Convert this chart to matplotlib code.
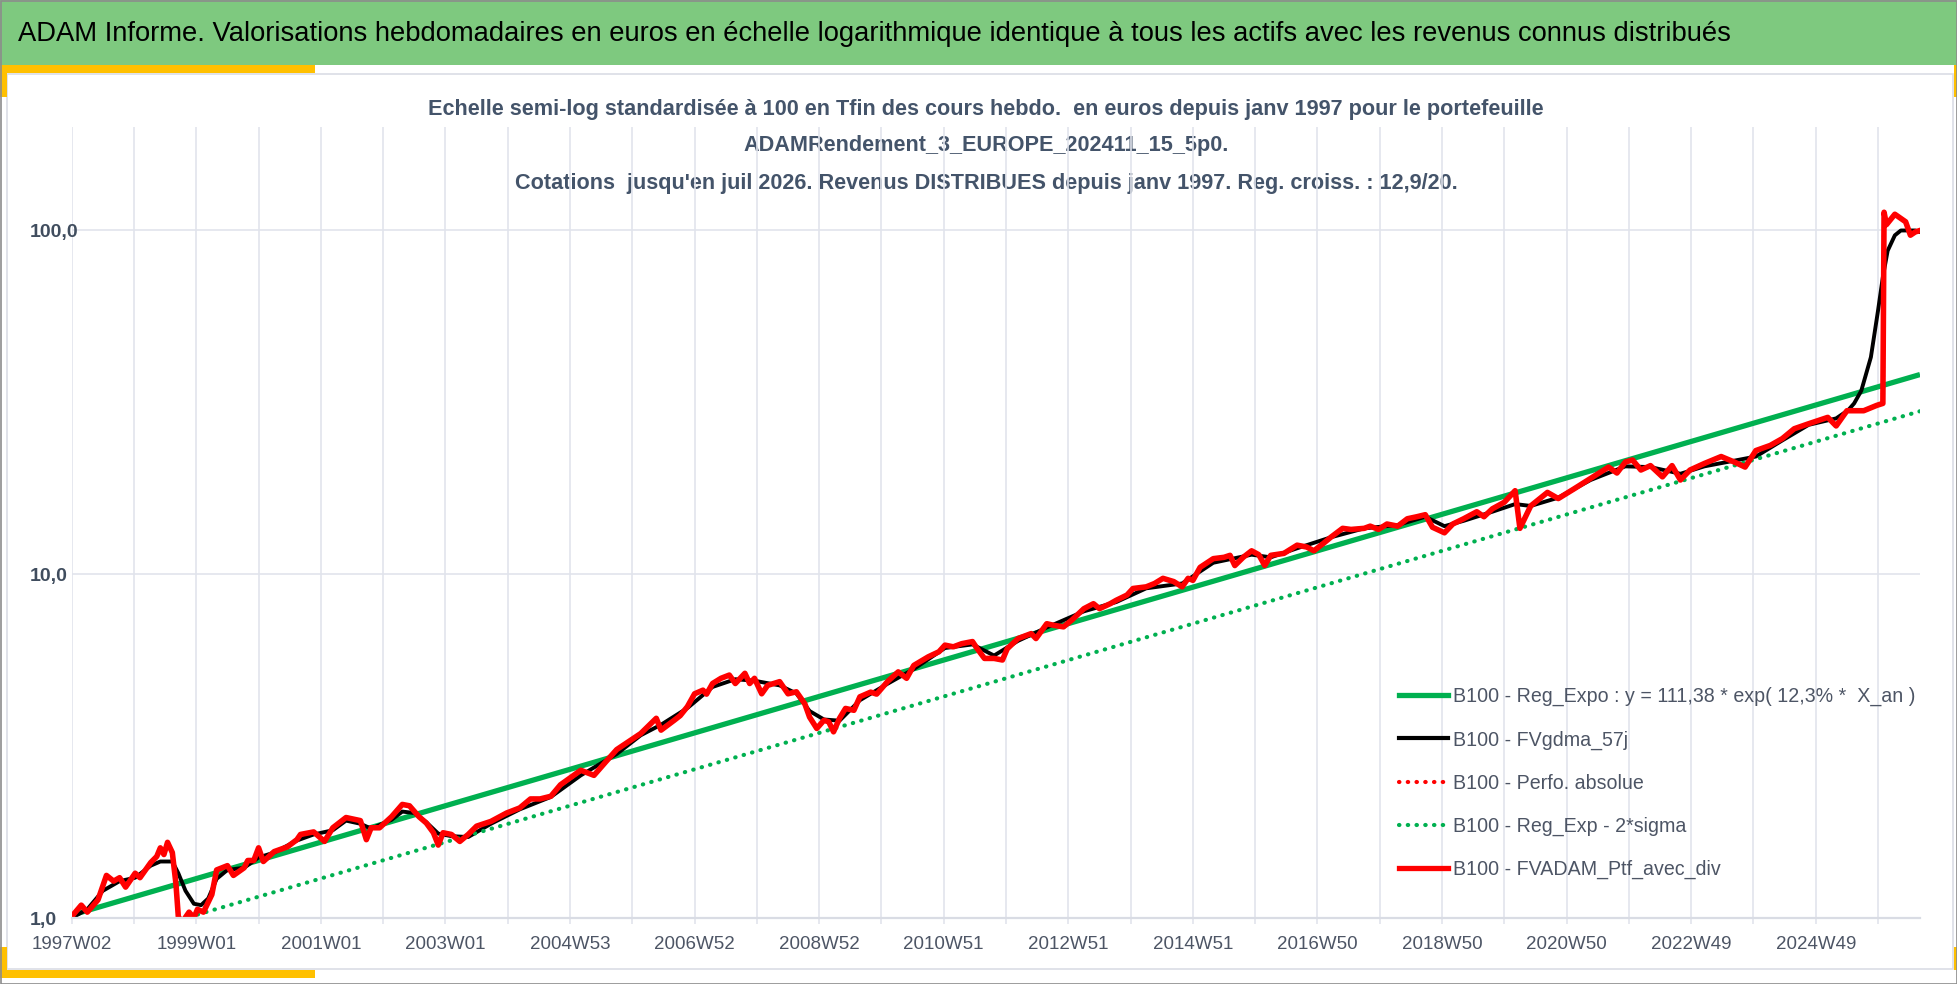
import matplotlib
matplotlib.use("Agg")
import matplotlib.pyplot as plt
from matplotlib import font_manager as fm
from matplotlib.patches import Rectangle
from matplotlib.lines import Line2D

# fonts: Calibri-ish narrow face if we have one
names = {f.name for f in fm.fontManager.ttflist}
FONT = 'Liberation Sans Narrow' if 'Liberation Sans Narrow' in names else 'Liberation Sans'
plt.rcParams['font.family'] = [FONT, 'DejaVu Sans']

# ---------------- data (week index from 1997W02) ----------------
red_wk = [0, 8, 13, 22, 29, 35, 40, 45, 53, 57, 66, 71, 74, 77, 80, 84, 87, 89, 92, 98,
          102, 105, 110, 117, 121, 130, 135, 144, 147, 152, 156, 160, 169, 180, 188, 191,
          202, 211, 218, 229, 241, 246, 250, 257, 267, 276, 282, 290, 296, 302, 306, 310,
          317, 324, 331, 338, 350, 363, 374, 383, 391, 400, 408, 425, 436, 446,
          455, 475, 488, 492, 503, 508, 514, 520, 527, 530, 535, 542, 549, 554, 562, 566,
          570, 576, 581, 591, 598, 605, 612, 616, 622, 628, 632, 636, 641, 646, 653, 658,
          667, 672, 681, 690, 697, 703, 715, 724, 729, 736, 743, 752, 756, 762, 770, 777,
          781, 790, 801,
          805, 814, 820, 828, 835, 845, 853, 858, 867, 872, 881, 886, 897, 904, 911, 920,
          927, 932, 936, 942, 953, 962, 967, 971, 978, 985, 991, 996, 1001, 1012, 1023,
          1031, 1037, 1045, 1051, 1061, 1068, 1079, 1084, 1091, 1098, 1107, 1115, 1123,
          1130, 1136, 1146, 1153, 1162, 1173, 1179, 1186, 1196, 1205, 1209, 1218,
          1232, 1241, 1254, 1268, 1283, 1290, 1297, 1303, 1310, 1318, 1328, 1336, 1343,
          1351, 1363, 1377, 1388, 1397, 1406, 1418, 1428, 1438, 1450, 1466, 1473, 1482,
          1496, 1507, 1512, 1513, 1515, 1522, 1526, 1531, 1535, 1539, 1543]
red_val = [1.01, 1.09, 1.04, 1.13, 1.33, 1.28, 1.31, 1.23, 1.35, 1.31, 1.45, 1.51, 1.60, 1.53,
           1.66, 1.55, 1.26, 1.01, 0.97, 1.04, 1.0, 1.06, 1.04, 1.17, 1.38, 1.42, 1.33, 1.40,
           1.47, 1.47, 1.60, 1.46, 1.56, 1.61, 1.69, 1.75, 1.78, 1.67, 1.83, 1.96, 1.92, 1.69,
           1.83, 1.83, 1.97, 2.14, 2.12, 1.97, 1.89, 1.77, 1.63, 1.77, 1.75, 1.67, 1.75, 1.85,
           1.91, 2.02, 2.09, 2.22, 2.22, 2.26, 2.44, 2.69, 2.60, 2.85,
           3.09, 3.44, 3.81, 3.52, 3.76, 3.88, 4.12, 4.49, 4.60, 4.48, 4.81, 4.98, 5.09, 4.81,
           5.15, 4.81, 4.98, 4.49, 4.75, 4.87, 4.49, 4.55, 4.20, 3.84, 3.56, 3.76, 3.72, 3.48,
           3.81, 4.07, 4.02, 4.40, 4.54, 4.48, 4.87, 5.20, 4.98, 5.43, 5.75, 5.95, 6.22, 6.15,
           6.28, 6.37, 6.07, 5.69, 5.69, 5.63, 6.07, 6.50, 6.72,
           6.50, 7.18, 7.10, 7.03, 7.36, 7.94, 8.21, 7.94, 8.21, 8.40, 8.70, 9.09, 9.19, 9.40,
           9.73, 9.52, 9.19, 9.73, 9.60, 10.47, 11.1, 11.2, 11.35, 10.6, 11.2, 11.7, 11.4,
           10.6, 11.35, 11.5, 12.15, 12.0, 11.7, 12.3, 12.8, 13.6, 13.5, 13.6, 13.8, 13.5,
           14.0, 13.8, 14.5, 14.7, 14.9, 13.7, 13.2, 14.0, 14.5, 15.2, 14.7, 15.5, 16.2, 17.5,
           13.6, 15.8,
           17.3, 16.6, 17.7, 19.0, 20.5, 19.7, 21.2, 21.5, 20.1, 20.7, 19.2, 20.7, 18.8,
           20.1, 21.0, 22.0, 21.2, 20.5, 22.9, 23.7, 24.8, 26.5, 27.4, 28.6, 27.0, 29.9,
           29.9, 31.0, 31.4, 113.0, 104.0, 111.5, 109.0, 106.0, 96.9, 99.0, 100.0]

blk_wk = [0, 13, 26, 40, 53, 66, 74, 84, 89, 95, 102, 108, 114, 121, 130, 144, 156, 169,
          188, 202, 218, 229, 241, 250, 267, 276, 286, 296, 306, 317, 331, 350, 374, 400,
          425, 455, 475, 492, 514, 535, 554, 570, 591, 605, 616, 628, 641, 658, 681, 703,
          729, 752, 770, 790, 814, 845, 872, 897, 927, 953, 985, 1001, 1023, 1051, 1079,
          1107, 1130, 1146, 1162, 1186, 1205, 1218, 1241, 1268, 1297, 1318, 1343, 1363,
          1388, 1406, 1428, 1450, 1473, 1483, 1488, 1494, 1502, 1508, 1512, 1516, 1522,
          1527, 1539, 1543]
blk_val = [1.0, 1.06, 1.2, 1.28, 1.31, 1.42, 1.46, 1.46, 1.35, 1.2, 1.1, 1.09, 1.14, 1.3,
           1.38, 1.40, 1.50, 1.55, 1.68, 1.75, 1.80, 1.92, 1.88, 1.82, 1.93, 2.04, 2.02, 1.90,
           1.76, 1.73, 1.72, 1.88, 2.07, 2.25, 2.6, 3.0, 3.4, 3.65, 4.08, 4.7, 4.95, 4.9,
           4.75, 4.5, 4.0, 3.78, 3.75, 4.3, 4.8, 5.3, 6.1, 6.25, 5.8, 6.4, 7.0, 7.8, 8.3,
           9.1, 9.4, 10.8, 11.4, 11.2, 11.9, 12.8, 13.6, 13.9, 14.7, 13.8, 14.3, 15.2, 16.0,
           15.8, 16.7, 18.8, 20.6, 20.5, 19.6, 20.6, 21.4, 22.0, 24.5, 27.2, 28.4, 30.0,
           31.4, 34.2, 42.8, 58.6, 73.3, 87.3, 96.8, 100.0, 100.0, 99.0]

reg_wk = [0, 1543]
reg_val = [1.02, 38.1]       # B100 - Reg_Expo
sig_val = [0.80, 29.8]       # B100 - Reg_Exp - 2*sigma

tick_wk = list(range(0, 1544, 52))
label_wk = list(range(0, 1544, 104))
xtick_labels = ['1997W02', '1999W01', '2001W01', '2003W01', '2004W53', '2006W52',
                '2008W52', '2010W51', '2012W51', '2014W51', '2016W50', '2018W50',
                '2020W50', '2022W49', '2024W49']
ytick_vals = [1, 10, 100]
ytick_labels = ['1,0', '10,0', '100,0']

legend_labels = ['B100 - Reg_Expo : y = 111,38 * exp( 12,3% *  X_an )',
                 'B100 - FVgdma_57j',
                 'B100 - Perfo. absolue',
                 'B100 - Reg_Exp - 2*sigma',
                 'B100 - FVADAM_Ptf_avec_div']

title = ("ADAM Informe. Valorisations hebdomadaires en euros en échelle logarithmique "
         "identique à tous les actifs avec les revenus connus distribués")
sub1 = ("Echelle semi-log standardisée à 100 en Tfin des cours hebdo.  en euros depuis "
        "janv 1997 pour le portefeuille")
sub2 = "ADAMRendement_3_EUROPE_202411_15_5p0."
sub3 = ("Cotations  jusqu'en juil 2026. Revenus DISTRIBUES depuis janv 1997. "
        "Reg. croiss. : 12,9/20.")

# ---------------- figure ----------------
W, H = 1958, 984
fig = plt.figure(figsize=(W / 100, H / 100), dpi=100)
fig.patch.set_facecolor('white')

# background / frame layer in pixel coords
ov = fig.add_axes([0, 0, 1, 1], zorder=0)
ov.set_xlim(0, W)
ov.set_ylim(H, 0)
ov.axis('off')

GREEN_BAR = '#7EC97F'
YELLOW = '#FFC000'
ov.add_patch(Rectangle((0, 0), W, 65, facecolor=GREEN_BAR, edgecolor='none'))
ov.add_patch(Rectangle((7, 74), W - 12, 895, facecolor='white', edgecolor='#DADDE5', lw=1.2))
for (x0, y0, w, h) in [(0, 65, 315, 8), (0, 65, 7, 32), (0, 970, 315, 8), (0, 947, 7, 31),
                       (W - 4, 65, 4, 32), (W - 4, 947, 4, 23)]:
    ov.add_patch(Rectangle((x0, y0), w, h, facecolor=YELLOW, edgecolor='none'))
ov.add_patch(Rectangle((0.5, 0.5), W - 1, H - 1, facecolor='none', edgecolor='#8C8C8C', lw=1.2))

SLATE = '#44546A'
t_title = ov.text(18, 34, title, fontsize=18, color='black', ha='left', va='center')
t1 = ov.text(986, 110, sub1, fontsize=14, color=SLATE, fontweight='bold', ha='center', va='center')
t2 = ov.text(986, 146, sub2, fontsize=14, color=SLATE, fontweight='bold', ha='center', va='center')
t3 = ov.text(986, 183, sub3, fontsize=14, color=SLATE, fontweight='bold', ha='center', va='center')

# ---------------- chart ----------------
x0, x1, ytop, ybot = 71.7, 1920, 127, 918
ax = fig.add_axes([x0 / W, 1 - ybot / H, (x1 - x0) / W, (ybot - ytop) / H], zorder=2)
ax.set_facecolor('none')

GRN = '#00B050'
ax.plot(reg_wk, reg_val, color=GRN, lw=3.8, solid_capstyle='butt')
ax.plot(blk_wk, blk_val, color='black', lw=2.8)
ax.plot(red_wk, red_val, color='#FF0000', lw=3.0, linestyle=(0, (0.1, 2.0)),
        dash_capstyle='round')
ax.plot(reg_wk, sig_val, color=GRN, lw=3.0, linestyle=(0, (0.1, 2.0)), dash_capstyle='round')
ax.plot(red_wk, red_val, color='#FF0000', lw=4.0, solid_joinstyle='round')

ax.set_yscale('log')
ax.set_ylim(1, 200)
ax.set_xlim(0, 1543)

GRID = '#E1E4EC'
ax.set_yticks(ytick_vals)
ax.set_yticklabels(ytick_labels)
ax.yaxis.set_minor_locator(matplotlib.ticker.NullLocator())
ax.set_xticks(tick_wk)
labs = [''] * len(tick_wk)
for wk, lab in zip(label_wk, xtick_labels):
    labs[tick_wk.index(wk)] = lab
ax.set_xticklabels(labs)

ax.grid(True, color=GRID, lw=1.2)
ax.set_axisbelow(True)
for s in ('top', 'right', 'left'):
    ax.spines[s].set_visible(False)
ax.spines['bottom'].set_color('#D9DCE4')
ax.spines['bottom'].set_linewidth(1.6)

ax.tick_params(axis='x', length=4, width=1.2, color=GRID, pad=9, labelsize=13.5,
               labelcolor='#4D5565')
# y labels are left aligned at x ~ 30 px
ax.tick_params(axis='y', length=0, pad=(x0 - 30) * 0.72, labelsize=14, labelcolor='#404D5E')
for lab in ax.get_yticklabels():
    lab.set_fontweight('bold')
    lab.set_horizontalalignment('left')

handles = [Line2D([], [], color=GRN, lw=3.8),
           Line2D([], [], color='black', lw=3.0),
           Line2D([], [], color='#FF0000', lw=3.0, linestyle=(0, (0.1, 2.0)), dash_capstyle='round'),
           Line2D([], [], color=GRN, lw=3.0, linestyle=(0, (0.1, 2.0)), dash_capstyle='round'),
           Line2D([], [], color='#FF0000', lw=3.8)]

# fit text widths to the reference
fig.canvas.draw()
r = fig.canvas.get_renderer()
t_title.set_fontsize(t_title.get_fontsize() * 1710 / t_title.get_window_extent(r).width)
k = 1114 / t1.get_window_extent(r).width
for t in (t1, t2, t3):
    t.set_fontsize(t.get_fontsize() * k)

probe = ov.text(0, 0, legend_labels[0], fontsize=14)
leg_fs = 14 * 462 / probe.get_window_extent(r).width
probe.remove()
fs_px = leg_fs * 100 / 72
row_h = 1.117 * fs_px

leg = ax.legend(handles, legend_labels, loc='upper left',
                bbox_to_anchor=(1399, 698 - row_h / 2), bbox_transform=ov.transData,
                frameon=False, fontsize=leg_fs, handlelength=49 / fs_px,
                handletextpad=5 / fs_px, labelspacing=(46 - row_h) / fs_px,
                borderpad=0, borderaxespad=0)
for t in leg.get_texts():
    t.set_color('#4D5565')

fig.savefig('out.png', dpi=100)
